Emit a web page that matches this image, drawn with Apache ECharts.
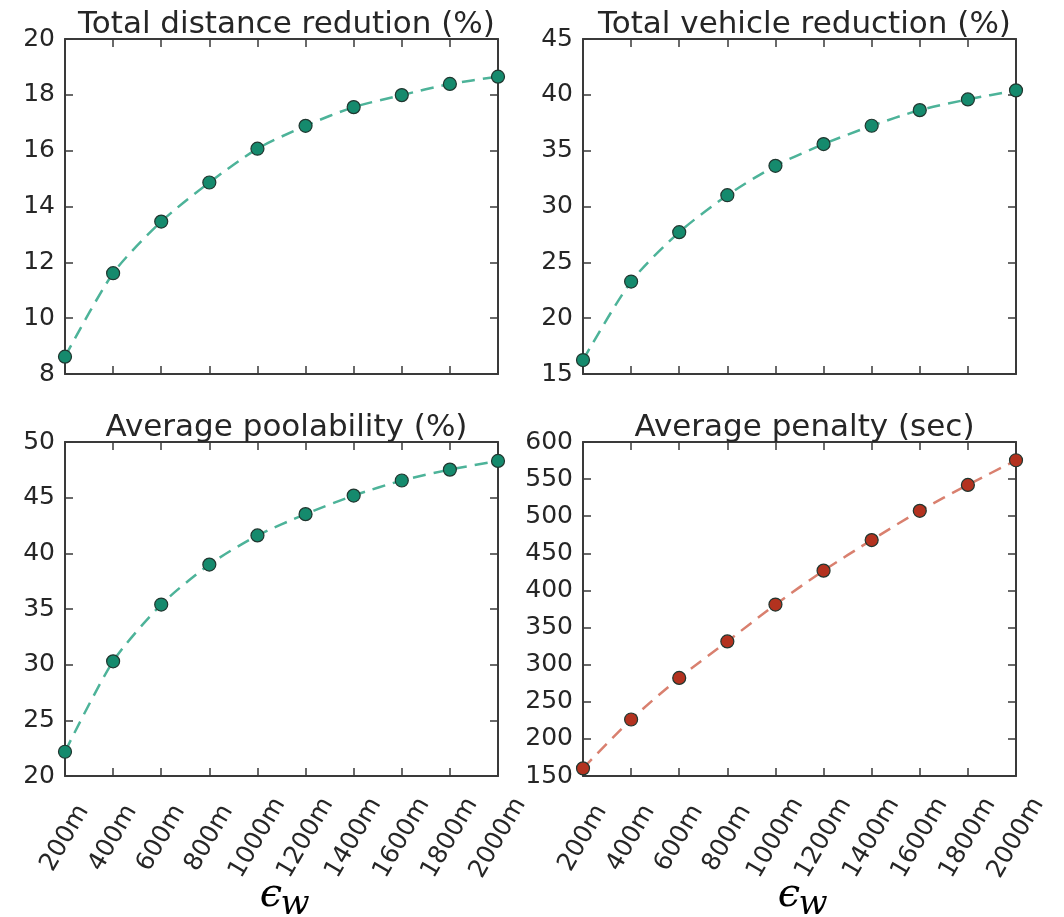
<!DOCTYPE html>
<html>
<head>
<meta charset="utf-8">
<script src="https://cdn.jsdelivr.net/npm/echarts@6/dist/echarts.min.js"></script>
<style>
html,body{margin:0;padding:0;background:#fff}
#chart{width:1064px;height:917px}
</style>
</head>
<body>
<div id="chart"></div>
<script>
// walking distance thresholds (x axis)
const distances = ['200m','400m','600m','800m','1000m','1200m','1400m','1600m','1800m','2000m'];
const distanceReduction = [8.62, 11.61, 13.46, 14.86, 16.07, 16.89, 17.56, 17.99, 18.39, 18.65];
const vehicleReduction = [16.25, 23.28, 27.70, 31.01, 33.64, 35.59, 37.23, 38.63, 39.59, 40.40];
const poolability = [22.18, 30.30, 35.40, 38.99, 41.61, 43.52, 45.19, 46.54, 47.52, 48.30];
const penalty = [160.3, 226.1, 282.1, 331.3, 381.0, 426.7, 467.9, 507.3, 542.2, 575.4];

const titles = ['Total distance redution (%)','Total vehicle reduction (%)','Average poolability (%)','Average penalty (sec)'];
const yRanges = [[8,20,2],[15,45,5],[20,50,5],[150,600,50]];

const teal = {dot:'#158a6d', line:'#4db399'};
const red = {dot:'#b3321f', line:'#d9806f'};

const panels = [
  {data: distanceReduction, c: teal, left: 65, top: 39, h: 335, bottomRow: false},
  {data: vehicleReduction, c: teal, left: 583, top: 39, h: 335, bottomRow: false},
  {data: poolability, c: teal, left: 65, top: 442, h: 334, bottomRow: true},
  {data: penalty, c: red, left: 583, top: 442, h: 334, bottomRow: true}
];

const font = 'DejaVu Sans';
const ink = '#262626';
const axisLine = {show:true, lineStyle:{color:'#3a3a3a', width:2}};
const tick = {show:true, inside:true, length:8, lineStyle:{color:'#3a3a3a', width:1.5}};

var grid = [], xAxis = [], yAxis = [], series = [], title = [];

panels.forEach(function(p, i){
  grid.push({left:p.left, top:p.top, width:433, height:p.h, containLabel:false});
  var r = yRanges[i];
  // bottom x axis
  xAxis.push({
    type:'category', gridIndex:i, position:'bottom', data:distances, boundaryGap:false,
    axisLine:axisLine, axisTick:tick, splitLine:{show:false},
    axisLabel:{show:p.bottomRow, interval:0, rotate:60, margin:62, align:'center', verticalAlign:'middle',
      fontSize:25, fontFamily:font, color:ink}
  });
  // mirrored top x axis
  xAxis.push({
    type:'category', gridIndex:i, position:'top', data:distances, boundaryGap:false,
    axisLine:axisLine, axisTick:tick, axisLabel:{show:false}, splitLine:{show:false}
  });
  yAxis.push({
    type:'value', gridIndex:i, position:'left', min:r[0], max:r[1], interval:r[2],
    axisLine:axisLine, axisTick:tick, splitLine:{show:false},
    axisLabel:{margin:10, fontSize:25, fontFamily:font, color:ink}
  });
  yAxis.push({
    type:'value', gridIndex:i, position:'right', min:r[0], max:r[1], interval:r[2],
    axisLine:axisLine, axisTick:tick, splitLine:{show:false}, axisLabel:{show:false}
  });
  series.push({
    type:'line', xAxisIndex:i*2, yAxisIndex:i*2, data:p.data,
    smooth:0.25,
    lineStyle:{color:p.c.line, width:2.5, type:[13,8]},
    symbol:'circle', symbolSize:13,
    itemStyle:{color:p.c.dot, borderColor:'#20362f', borderWidth:1.2},
    clip:true
  });
  title.push({
    text:titles[i], left:p.left + 216.5, textAlign:'center', top:p.top - 35,
    textStyle:{fontSize:31, lineHeight:31, fontWeight:'normal', fontFamily:font, color:ink}
  });
  if (p.bottomRow) {
    // x axis symbol: epsilon with subscript w
    title.push({
      text:'ϵ', left:p.left + 201, textAlign:'center', top:871,
      textStyle:{fontSize:40, lineHeight:40, fontWeight:'normal', fontStyle:'italic', fontFamily:'DejaVu Serif', color:'#000'}
    });
    title.push({
      text:'w', left:p.left + 225, textAlign:'center', top:883,
      textStyle:{fontSize:34, lineHeight:34, fontWeight:'normal', fontStyle:'italic', fontFamily:'DejaVu Serif', color:'#000'}
    });
  }
});

var myChart = echarts.init(document.getElementById('chart'));
var option = {
  animation:false,
  backgroundColor:'#fff',
  title:title,
  grid:grid,
  xAxis:xAxis,
  yAxis:yAxis,
  series:series
};
option && myChart.setOption(option);
</script>
</body>
</html>
